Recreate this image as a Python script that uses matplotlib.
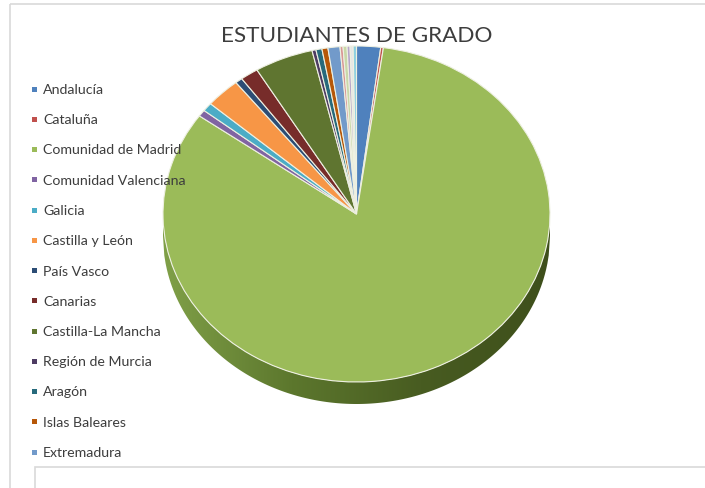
import numpy as np
import matplotlib
matplotlib.use("Agg")
import matplotlib.pyplot as plt
from matplotlib.patches import Rectangle, Polygon
from matplotlib.colors import LinearSegmentedColormap

# ── Data (share of students, %) ─────────────────────────────────────
regions = [
    "Andalucía", "Cataluña", "Comunidad de Madrid", "Comunidad Valenciana",
    "Galicia", "Castilla y León", "País Vasco", "Canarias",
    "Castilla-La Mancha", "Región de Murcia", "Aragón", "Islas Baleares",
    "Extremadura", "Principado de Asturias", "Comunidad Foral de Navarra",
    "Cantabria", "La Rioja", "Ceuta y Melilla",
]
shares = [2.0, 0.22, 82.6, 0.64, 0.83, 2.9, 0.6, 1.5, 4.9, 0.33,
          0.5, 0.5, 1.0, 0.25, 0.33, 0.25, 0.25, 0.28]
colors = ["#4F81BD", "#C0504D", "#9BBB59", "#8064A2", "#4BACC6", "#F79646",
          "#2C4D75", "#772C2A", "#5F7530", "#4D3B62", "#276A7C", "#B65708",
          "#729ACA", "#D99795", "#C9D8A8", "#B6A6CA", "#E6E6E6", "#8DD0E0"]
n_legend = 13          # legend is cut off after Extremadura
title = "ESTUDIANTES DE GRADO"

W, H = 705, 489
fig = plt.figure(figsize=(W / 100, H / 100), dpi=100)

# ── Pie (ellipse = tilted 3D look) ──────────────────────────────────
cx, cy, rx, ry, depth = 356.5, 215, 193.5, 168, 22
pad = depth + 6
ax = fig.add_axes([(cx - rx) / W, (H - (cy + ry + pad)) / H,
                   2 * rx / W, (2 * ry + pad) / H])

# side wall of the front half (all inside the Madrid slice), shaded left→right
side_cmap = LinearSegmentedColormap.from_list(
    "side", ["#80a048", "#5c772d", "#485c21", "#3e4f1b"])
d = depth / ry
xs = np.linspace(-1, 1, 300)
top = -np.sqrt(np.clip(1 - xs ** 2, 0, None))
outline = np.vstack([np.column_stack([xs, top]),
                     np.column_stack([xs[::-1], top[::-1] - d])])
wall = Polygon(outline, closed=True, facecolor="none", edgecolor="none")
ax.add_patch(wall)
grad = np.linspace(0, 1, 256).reshape(1, -1)
img = ax.imshow(grad, cmap=side_cmap, extent=(-1, 1, -1 - d, 0),
                aspect="auto", interpolation="bilinear", zorder=0.5)
img.set_clip_path(wall)

wedges, _ = ax.pie(shares, colors=colors, startangle=90, counterclock=False,
                   radius=1, center=(0, 0),
                   wedgeprops=dict(edgecolor="#eef0e2", linewidth=0.8))
ax.set_aspect("auto")
ax.set_xlim(-1, 1)
ax.set_ylim(-1 - pad / ry, 1)
ax.axis("off")

# ── Overlay in pixel coordinates: frame, title, legend ──────────────
ov = fig.add_axes([0, 0, 1, 1], zorder=5)
ov.set_xlim(0, W)
ov.set_ylim(H, 0)
ov.axis("off")

ov.add_patch(Rectangle((10, 4.5), 900, 700, fill=False,
                       edgecolor="#d9d9d9", linewidth=1.2))
ov.add_patch(Rectangle((35, 468), 900, 100, facecolor="white",
                       edgecolor="#d9d9d9", linewidth=1.2))

ov.text(357, 36, title, ha="center", va="center", fontsize=16.2,
        family="Lato", color="#3d3d3d")

for i in range(n_legend):
    y = 90 + i * 30.25
    ov.add_patch(Rectangle((32, y - 2.5), 5, 5, facecolor=colors[i],
                           edgecolor="none"))
    ov.text(43, y, regions[i], ha="left", va="center", fontsize=10.2,
            family="Lato", color="#3d3d3d")

fig.savefig("out.png", dpi=100)
